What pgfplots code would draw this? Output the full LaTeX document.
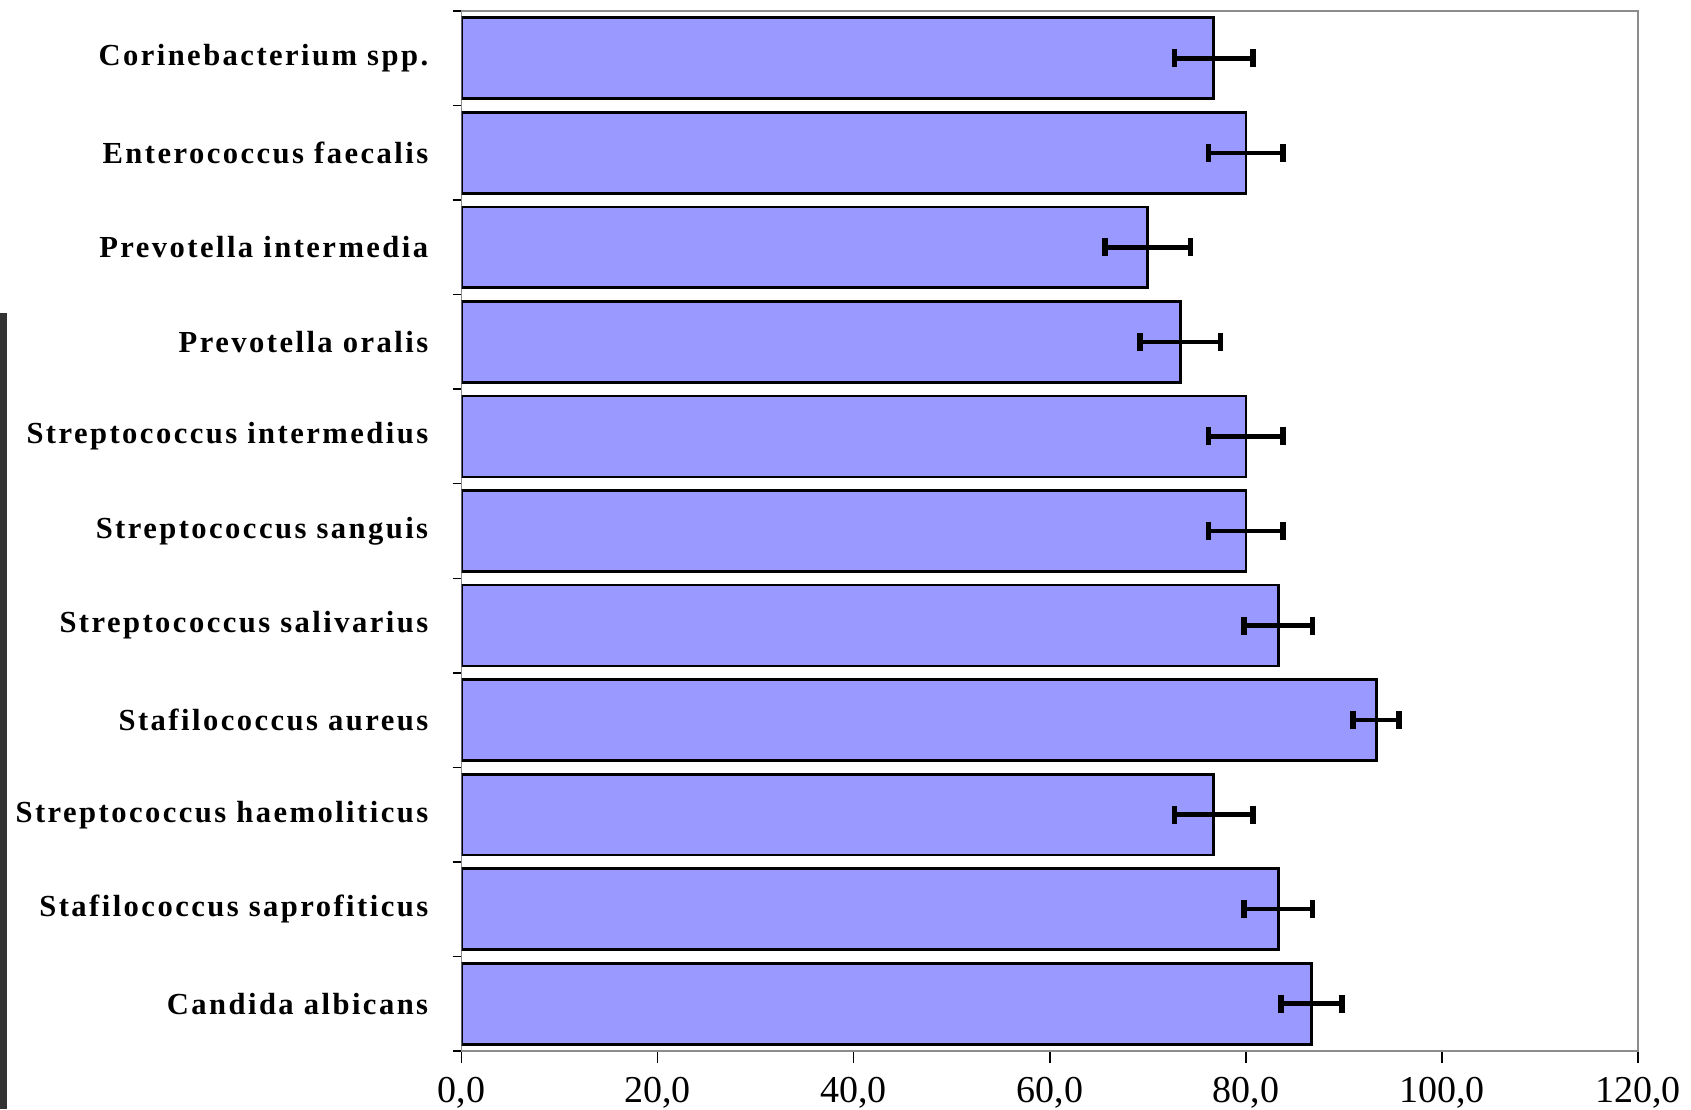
\documentclass[border=0pt]{standalone}
\usepackage{fontspec}
\setmainfont{Liberation Serif}
\newfontfamily\labfont[LetterSpace=8]{Liberation Serif}
\usepackage{pgfplots}
\pgfplotsset{compat=1.18}
\definecolor{barblue}{HTML}{9999FF}
\definecolor{framegray}{HTML}{8C8C8C}

\begin{document}
\begin{tikzpicture}
\useasboundingbox (-230.8pt,-29pt) rectangle (614.7pt,525.5pt);
% dark strip at the left edge of the screenshot
\fill[black!80] (-230.8pt,-29pt) rectangle (-227.3pt,369pt);
\begin{axis}[
  at={(0pt,0pt)}, anchor=south west,
  scale only axis, width=588.2pt, height=520pt,
  xmin=0, xmax=120, ymin=0.5, ymax=11.5, y dir=reverse,
  xtick={0,20,...,120},
  ytick={1,...,11},
  yticklabels={Corinebacterium spp., Enterococcus faecalis, Prevotella intermedia,
    Prevotella oralis, Streptococcus intermedius, Streptococcus sanguis,
    Streptococcus salivarius, Stafilococcus aureus, Streptococcus haemoliticus,
    Stafilococcus saprofiticus, Candida albicans},
  minor ytick={0.5,1.5,...,11.5},
  xtick pos=bottom, ytick pos=left,
  axis line style={framegray, line width=0.8pt},
  tick style={black, line width=0.7pt},
  major y tick style={draw=none},
  tick align=outside,
  major tick length=6pt,
  minor tick length=4.5pt,
  xticklabel style={font=\fontsize{19}{22}\selectfont, inner sep=0pt, yshift=-7pt},
  yticklabel style={font=\labfont\bfseries\fontsize{15.3}{18}\selectfont, inner sep=0pt, xshift=-10.5pt},
  /pgf/number format/assume math mode=true,
  /pgf/number format/.cd, fixed, zerofill, precision=1, use comma,
]
\addplot[xbar, bar width=0.856, fill=barblue, draw=black, line width=1.35pt,
  error bars/.cd, x dir=both, x explicit,
  error bar style={line width=2.3pt, black},
  error mark options={rotate=90, line width=2.8pt, mark size=4.5pt, black}]
coordinates {
  (76.7,1) +- (4.0,0)
  (80.0,2) +- (3.8,0)
  (70.0,3) +- (4.35,0)
  (73.3,4) +- (4.1,0)
  (80.0,5) +- (3.8,0)
  (80.0,6) +- (3.8,0)
  (83.3,7) +- (3.5,0)
  (93.3,8) +- (2.35,0)
  (76.7,9) +- (4.0,0)
  (83.3,10) +- (3.5,0)
  (86.7,11) +- (3.1,0)
};
\end{axis}
\end{tikzpicture}
\end{document}
